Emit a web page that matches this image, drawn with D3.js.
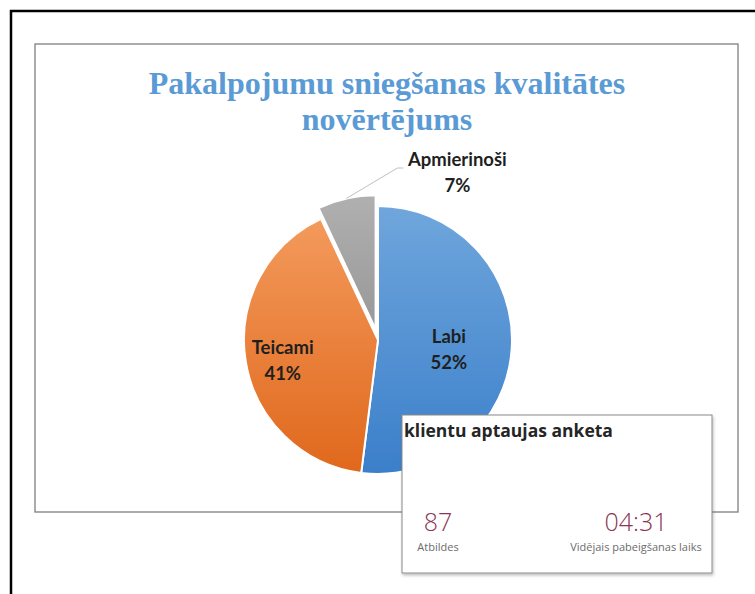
<!DOCTYPE html>
<html>
<head>
<meta charset="utf-8">
<script src="https://cdn.jsdelivr.net/npm/d3@7"></script>
<style>
  body { margin: 0; background: #fff; }
</style>
</head>
<body>
<div id="chart"></div>
<script>
// chart values
const categories = ["Labi", "Teicami", "Apmierinoši"];
const shares = [52, 41, 7];
const titleLines = ["Pakalpojumu sniegšanas kvalitātes", "novērtējums"];
const panelTitle = "klientu aptaujas anketa";
const statValues = ["87", "04:31"];
const statLabels = ["Atbildes", "Vidējais pabeigšanas laiks"];

const width = 755, height = 594;

const svg = d3.select("#chart")
    .append("svg")
    .attr("width", width)
    .attr("height", height)
    .style("font-family", "Lato, 'Open Sans', sans-serif");

const defs = svg.append("defs");

// gradients, excel style
const grads = [
    {id: "gBlue", top: "#6fa6dc", bottom: "#3b7fca"},
    {id: "gOrange", top: "#f39a5c", bottom: "#e0681c"},
    {id: "gGray", top: "#b0b0b0", bottom: "#989898"}
];
grads.forEach(g => {
    const lg = defs.append("linearGradient")
        .attr("id", g.id)
        .attr("x1", 0).attr("y1", 0).attr("x2", 0).attr("y2", 1);
    lg.append("stop").attr("offset", "0%").attr("stop-color", g.top);
    lg.append("stop").attr("offset", "100%").attr("stop-color", g.bottom);
});

const shadow = defs.append("filter").attr("id", "shadow")
    .attr("x", "-5%").attr("y", "-5%").attr("width", "110%").attr("height", "115%");
shadow.append("feDropShadow")
    .attr("dx", 1).attr("dy", 2).attr("stdDeviation", 1.5)
    .attr("flood-color", "#000").attr("flood-opacity", 0.25);

// outer frame (right side runs off the page)
svg.append("path")
    .attr("d", "M 760 11 H 11 V 600")
    .attr("fill", "none")
    .attr("stroke", "#000")
    .attr("stroke-width", 2.5);

// chart area
svg.append("rect")
    .attr("x", 35).attr("y", 44)
    .attr("width", 703).attr("height", 468)
    .attr("fill", "#fff")
    .attr("stroke", "#7f7f7f")
    .attr("stroke-width", 1.3);

svg.append("g")
    .selectAll("text")
    .data(titleLines)
    .join("text")
    .attr("x", 387)
    .attr("y", (d, i) => 94 + i * 36)
    .attr("text-anchor", "middle")
    .attr("font-family", "'Liberation Serif', 'Times New Roman', serif")
    .attr("font-weight", "bold")
    .attr("font-size", 32)
    .attr("fill", "#5b9bd5")
    .text(d => d);

// pie
const cx = 378, cy = 340, r = 134;
const explode = [0, 0, 11];
const fills = ["url(#gBlue)", "url(#gOrange)", "url(#gGray)"];
const table = categories.map((c, i) => ({name: c, value: shares[i], i: i}));

const pie = d3.pie().sort(null).value(d => d.value);
const arcs = pie(table);
const arc = d3.arc().innerRadius(0).outerRadius(r);

const offset = d => {
    const a = (d.startAngle + d.endAngle) / 2;
    const e = explode[d.data.i];
    return [Math.sin(a) * e, -Math.cos(a) * e];
};

const g = svg.append("g").attr("transform", `translate(${cx},${cy})`);

g.selectAll("path.slice")
    .data(arcs)
    .join("path")
    .attr("class", "slice")
    .attr("transform", d => `translate(${offset(d)})`)
    .attr("d", arc)
    .attr("fill", d => fills[d.data.i])
    .attr("stroke", "#fff")
    .attr("stroke-width", 2);

// labels
const labelR = [0.53, 0.72];
const labelText = (sel, x, y) => {
    sel.append("tspan").attr("x", x).attr("y", y).text(d => d.data.name);
    sel.append("tspan").attr("x", x).attr("y", y + 26).text(d => d.data.value + "%");
};

arcs.forEach(d => {
    const t = g.append("text").datum(d)
        .attr("text-anchor", "middle")
        .attr("font-weight", "bold")
        .attr("font-size", 18.5)
        .attr("fill", "#1f1f1f");
    if (d.data.i < 2) {
        const c = d3.arc().innerRadius(r * labelR[d.data.i]).outerRadius(r * labelR[d.data.i]).centroid(d);
        labelText(t, c[0], c[1] - 1);
    } else {
        // outside label with leader line
        const a = (d.startAngle + d.endAngle) / 2;
        const p0 = [Math.sin(a) * (r + explode[2]), -Math.cos(a) * (r + explode[2])];
        const p1 = [p0[0] + 51, -172];
        g.append("polyline")
            .attr("points", [p0, p1, [p1[0] + 6, p1[1]]].map(p => p.join(",")).join(" "))
            .attr("fill", "none")
            .attr("stroke", "#bfbfbf")
            .attr("stroke-width", 1);
        labelText(t, p1[0] + 60, p1[1] - 2);
    }
});

// survey summary panel
const panel = svg.append("g").attr("transform", "translate(402,415)");
panel.append("rect")
    .attr("width", 310).attr("height", 158)
    .attr("fill", "#fff")
    .attr("stroke", "#8a8a8a")
    .attr("stroke-width", 1)
    .attr("filter", "url(#shadow)");

panel.append("text")
    .attr("x", 2).attr("y", 22)
    .attr("font-family", "'Open Sans', 'Noto Sans', sans-serif")
    .attr("font-weight", 700)
    .attr("font-size", 17.5)
    .attr("fill", "#252525")
    .text(panelTitle);

const statX = [36, 234];
panel.selectAll("text.val")
    .data(statValues)
    .join("text")
    .attr("class", "val")
    .attr("x", (d, i) => statX[i])
    .attr("y", 116)
    .attr("text-anchor", "middle")
    .attr("font-family", "'Open Sans', 'Noto Sans', sans-serif")
    .attr("font-weight", 300)
    .attr("font-size", 25)
    .attr("fill", "#8b3553")
    .text(d => d);

panel.selectAll("text.lbl")
    .data(statLabels)
    .join("text")
    .attr("class", "lbl")
    .attr("x", (d, i) => statX[i])
    .attr("y", 136)
    .attr("text-anchor", "middle")
    .attr("font-family", "'Open Sans', 'Noto Sans', sans-serif")
    .attr("font-size", 11)
    .attr("fill", "#6b6b6b")
    .text(d => d);
</script>
</body>
</html>
